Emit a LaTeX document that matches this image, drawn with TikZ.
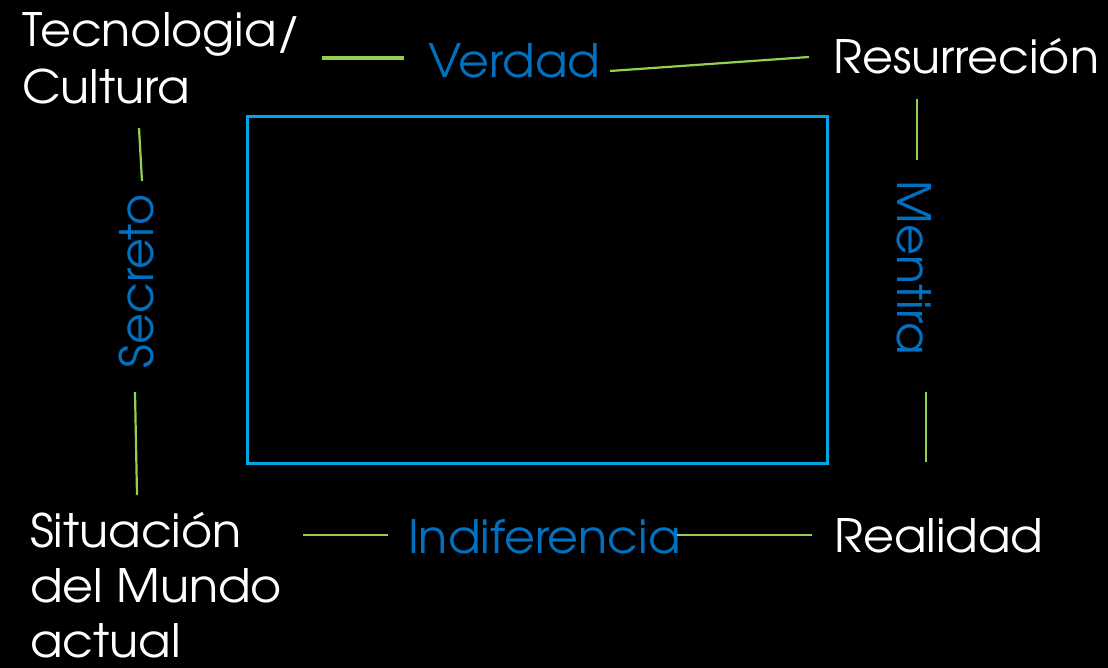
\documentclass[tikz,border=0pt]{standalone}
\usepackage{fontspec}
\setmainfont[FakeStretch=1.035]{TeX Gyre Adventor}
\definecolor{txtblue}{HTML}{0070C0}
\definecolor{lgreen}{HTML}{92D050}
\definecolor{rectblue}{HTML}{00A6E6}
\tikzset{
  wtext/.style={text=white, inner sep=0pt, font=\fontsize{46}{56}\selectfont, align=left},
  btext/.style={text=txtblue, inner sep=0pt, font=\fontsize{46}{56}\selectfont},
  gline/.style={draw=lgreen, line width=2.2pt},
  gthick/.style={draw=lgreen, line width=4pt},
  frame/.style={draw=rectblue, line width=3pt}
}
\begin{document}
\begin{tikzpicture}[x=1pt, y=-1pt]
\fill[black] (0,0) rectangle (1108,668);
\useasboundingbox (0,0) rectangle (1108,668);
% frame
\draw[frame] (247,117) rectangle (827,463);
% corner labels (anchor on the last line's baseline)
\node[wtext, font=\fontsize{46}{57}\selectfont, anchor=base west] (tec) at (22,104) {Tecnologia/\\Cultura};
\node[wtext, anchor=base west] (res) at (833,74) {Resurreción};
\node[wtext, font=\fontsize{46}{55}\selectfont, anchor=base west] (sit) at (30,657) {Situación\\del Mundo\\actual};
\node[wtext, anchor=base west] (rea) at (834,552) {Realidad};
% side labels
\node[btext, anchor=base west] (ver) at (428,78) {Verdad};
\node[btext, anchor=base west] (ind) at (408,553) {Indiferencia};
\node[btext, rotate=90, anchor=base] (sec) at (153,281) {Secreto};
\node[btext, rotate=-90, anchor=base] (men) at (897,268) {Mentira};
% connector ends
\coordinate (t1) at (322,58);  \coordinate (t2) at (404,58);
\coordinate (t3) at (610,71);  \coordinate (t4) at (809,57);
\coordinate (l1) at (139,128); \coordinate (l2) at (142,181);
\coordinate (l3) at (135,392); \coordinate (l4) at (137,495);
\coordinate (r1) at (917,99);  \coordinate (r2) at (917,160);
\coordinate (r3) at (926,392); \coordinate (r4) at (926,462);
\coordinate (b1) at (303,535); \coordinate (b2) at (388,535);
\coordinate (b3) at (677,535); \coordinate (b4) at (812,535);
\draw[gthick] (t1) -- (t2);
\draw[gline] (t3) -- (t4);
\draw[gline] (l1) -- (l2);
\draw[gline] (l3) -- (l4);
\draw[gline] (r1) -- (r2);
\draw[gline] (r3) -- (r4);
\draw[gline] (b1) -- (b2);
\draw[gline] (b3) -- (b4);
\end{tikzpicture}
\end{document}
